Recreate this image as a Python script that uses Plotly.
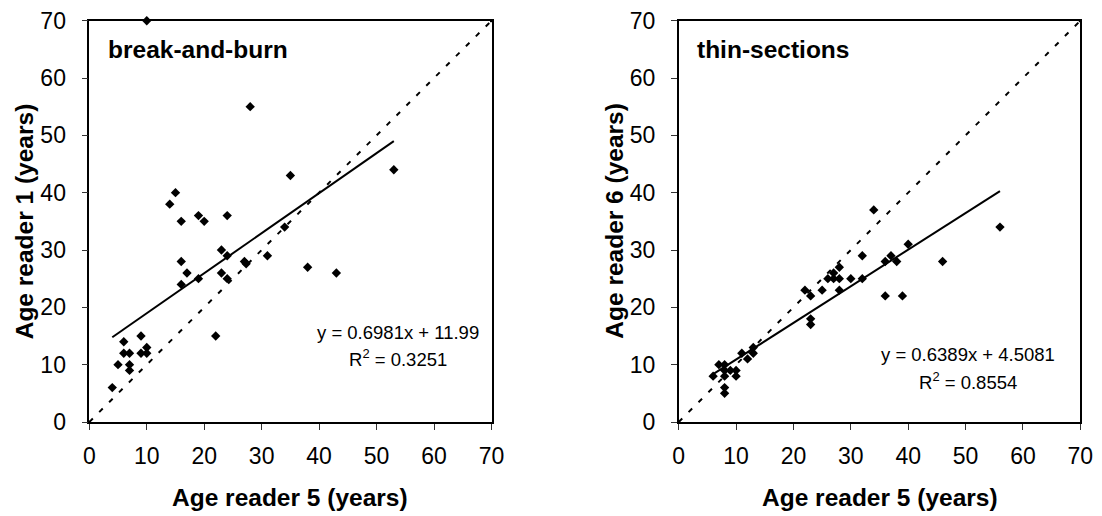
import plotly.graph_objects as go

W, H = 1102, 516

# ---- data ----
bb_reader5 = [10, 28, 15, 14, 16, 19, 20, 24, 23, 24, 16, 17, 19, 16, 23, 24, 27, 27.3, 31, 34, 35, 53, 38, 43,
              22, 9, 6, 6, 7, 9, 10, 10, 5, 7, 7, 4]
bb_reader1 = [70, 55, 40, 38, 35, 36, 35, 36, 30, 29, 28, 26, 25, 24, 26, 25, 28, 27.6, 29, 34, 43, 44, 27, 26,
              15, 15, 14, 12, 12, 12, 12, 13, 10, 10, 9, 6]
bb_fit = {"slope": 0.6981, "intercept": 11.99, "x_range": [4, 53]}
bb_eq = ["y = 0.6981x + 11.99", "R<sup>2</sup> = 0.3251"]

ts_reader5 = [34, 32, 37, 36, 38, 40, 46, 56, 36, 39, 28, 27, 26, 27, 28, 30, 32, 28, 25, 22, 23, 23, 23,
              13, 13, 11, 12, 7, 8, 6, 8, 9, 10, 8, 10, 8, 8]
ts_reader6 = [37, 29, 29, 28, 28, 31, 28, 34, 22, 22, 27, 26, 25, 25, 25, 25, 25, 23, 23, 23, 22, 18, 17,
              13, 12, 12, 11, 10, 10, 8, 9, 9, 9, 8, 8, 6, 5]
ts_fit = {"slope": 0.6389, "intercept": 4.5081, "x_range": [6, 56]}
ts_eq = ["y = 0.6389x + 4.5081", "R<sup>2</sup> = 0.8554"]

one_to_one = [0, 70]
axis_range = [0, 70]
tick_vals = [0, 10, 20, 30, 40, 50, 60, 70]

panel_labels = ["break-and-burn", "thin-sections"]
x_titles = ["Age reader 5 (years)", "Age reader 5 (years)"]
y_titles = ["Age reader 1 (years)", "Age reader 6 (years)"]

FONT = "Arial, Liberation Sans, sans-serif"

# ---- layout geometry (pixels) ----
plot_left = [89.3, 678.7]
plot_right = [491.5, 1080.3]
plot_top, plot_bottom = 20.7, 422.0


def px(x):
    return x / W


def py(y):
    return 1 - y / H


fig = go.Figure()

panels = [
    (bb_reader5, bb_reader1, bb_fit, bb_eq),
    (ts_reader5, ts_reader6, ts_fit, ts_eq),
]

annotations = []
for i, (xs, ys, fit, eq) in enumerate(panels):
    xa = "x" if i == 0 else "x2"
    ya = "y" if i == 0 else "y2"
    # 1:1 line
    fig.add_trace(go.Scatter(
        x=one_to_one, y=one_to_one, xaxis=xa, yaxis=ya, mode="lines+markers",
        line=dict(color="black", width=2, dash="5px,9px"),
        marker=dict(symbol="square", size=3, color="black"),
        cliponaxis=False, showlegend=False, hoverinfo="skip"))
    # trendline from its equation
    fx = fit["x_range"]
    fy = [fit["slope"] * v + fit["intercept"] for v in fx]
    fig.add_trace(go.Scatter(
        x=fx, y=fy, xaxis=xa, yaxis=ya, mode="lines",
        line=dict(color="black", width=2), showlegend=False, hoverinfo="skip"))
    # data points
    fig.add_trace(go.Scatter(
        x=xs, y=ys, xaxis=xa, yaxis=ya, mode="markers",
        marker=dict(symbol="diamond", size=7.2, color="black"),
        cliponaxis=False, showlegend=False))

axis_common = dict(
    range=axis_range, tickvals=tick_vals, showgrid=False, zeroline=False,
    showline=True, linecolor="black", linewidth=1.5, mirror=True,
    ticks="outside", ticklen=6, tickwidth=1, tickcolor="#333", automargin=False,
    ticklabeloverflow="allow",
    tickfont=dict(family=FONT, size=23, color="black"),
)

layout = dict(
    width=W, height=H, autosize=False,
    margin=dict(l=0, r=0, t=0, b=0, pad=0, autoexpand=False),
    paper_bgcolor="white", plot_bgcolor="white",
    showlegend=False,
)
for i in range(2):
    sfx = "" if i == 0 else "2"
    layout["xaxis" + sfx] = dict(axis_common, domain=[px(plot_left[i]), px(plot_right[i])],
                                  anchor="y" + sfx, ticklabelstandoff=7)
    layout["yaxis" + sfx] = dict(axis_common, domain=[py(plot_bottom), py(plot_top)],
                                  anchor="x" + sfx, ticklabelstandoff=11)

fig.update_layout(**layout)

# text annotations (pixels)
eq_pos = [(398, 332, 358), (968, 354, 381)]
panel_label_x = [106, 695]
for i in range(2):
    cx = (plot_left[i] + plot_right[i]) / 2
    annotations.append(dict(text="<b>%s</b>" % x_titles[i], x=px(cx), y=py(497), xref="paper", yref="paper",
                            showarrow=False, xanchor="center", yanchor="middle",
                            font=dict(family=FONT, size=24.5, color="black")))
    annotations.append(dict(text="<b>%s</b>" % y_titles[i], x=px(plot_left[i] - 65), y=py(221), xref="paper",
                            yref="paper", showarrow=False, xanchor="center", yanchor="middle", textangle=-90,
                            font=dict(family=FONT, size=24.5, color="black")))
    annotations.append(dict(text="<b>%s</b>" % panel_labels[i], x=px(panel_label_x[i]), y=py(50), xref="paper",
                            yref="paper", showarrow=False, xanchor="left", yanchor="middle",
                            font=dict(family=FONT, size=24.5, color="black")))
    eqx, y1, y2 = eq_pos[i]
    eq = panels[i][3]
    annotations.append(dict(text=eq[0], x=px(eqx), y=py(y1), xref="paper", yref="paper", showarrow=False,
                            xanchor="center", yanchor="middle", font=dict(family=FONT, size=18.5, color="black")))
    annotations.append(dict(text=eq[1], x=px(eqx), y=py(y2), xref="paper", yref="paper", showarrow=False,
                            xanchor="center", yanchor="middle", font=dict(family=FONT, size=18.5, color="black")))

fig.update_layout(annotations=annotations)
fig.write_html(
    "out.html",
    config={"displayModeBar": False},
    post_script="document.body.style.margin='0';document.body.style.overflow='hidden';",
)
